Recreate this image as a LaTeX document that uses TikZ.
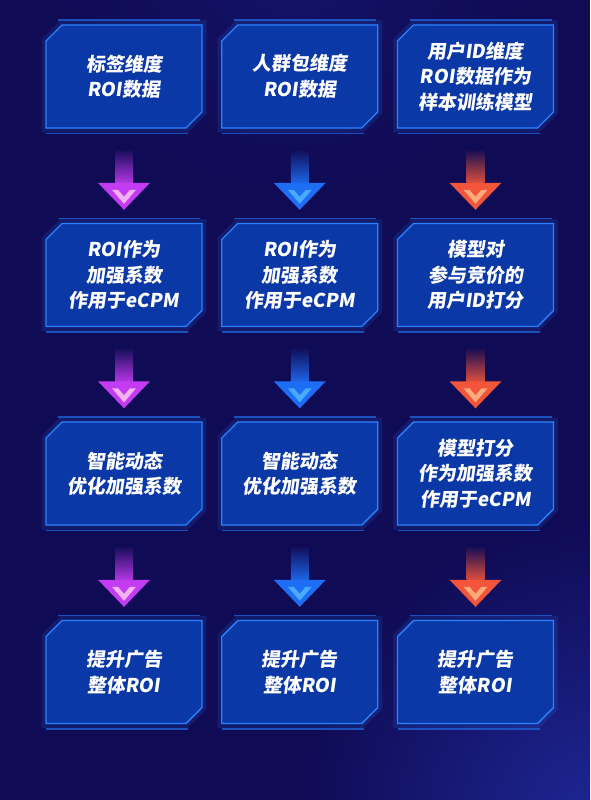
\documentclass[tikz,border=0pt]{standalone}
\usepackage{fontspec}
\newfontfamily\boxfont{Noto Sans CJK SC}[FakeSlant=0.14]
\usetikzlibrary{shapes.misc,calc,fadings}

\definecolor{bg}{HTML}{100B55}
\definecolor{bglow}{HTML}{2333B0}
\definecolor{boxfill}{HTML}{0A38A6}
\definecolor{boxline}{HTML}{2A82FF}
\definecolor{decoline}{HTML}{1F66DD}
\definecolor{arrpurple}{HTML}{C43CF2}
\definecolor{arrpurplelt}{HTML}{F4B2F4}
\definecolor{arrblue}{HTML}{1E6EF5}
\definecolor{arrbluelt}{HTML}{4AAAFF}
\definecolor{arrorange}{HTML}{F2553A}
\definecolor{arrorangelt}{HTML}{FFAA7A}

\tikzfading[name=glowfade, inner color=transparent!0, outer color=transparent!100]

\begin{document}
\begin{tikzpicture}[x=1pt, y=-1pt,
  box/.style={chamfered rectangle, chamfered rectangle corners={north west,south east},
    chamfered rectangle sep=8pt, draw=boxline, line width=1.4pt, fill=boxfill,
    minimum width=156pt, minimum height=103pt, inner sep=0pt,
    preaction={draw=boxline, line width=9pt, opacity=0.14},
    text=white, align=center, font=\boxfont\bfseries\fontsize{19}{25.5}\selectfont},
  deco/.style={decoline, line width=1.8pt, opacity=0.75}]

  \newcommand\X{175.75}
  \newcommand\Y{198.5}

  % arrow between two boxes: shaft fading in, head with a light chevron
  \newcommand\flow[4]{%
    \shade[top color=bg, bottom color=#3!90!bg] ($(#1.south)+(-9,20)$) rectangle ($(#2.north)+(9,-40)$);
    \fill[#3] ($(#2.north)+(-26,-40)$) -- ($(#2.north)+(26,-40)$) -- ($(#2.north)+(0,-13)$) -- cycle;
    \fill[#4] ($(#2.north)+(-12,-33)$) -- ($(#2.north)+(0,-19)$) -- ($(#2.north)+(12,-33)$)
      -- ($(#2.north)+(6,-33)$) -- ($(#2.north)+(0,-26)$) -- ($(#2.north)+(-6,-33)$) -- cycle;
  }

  \useasboundingbox (0,0) rectangle (590,800);
  \clip (0,0) rectangle (590,800);
  \fill[bg] (0,0) rectangle (590,800);
  \fill[bglow, path fading=glowfade, opacity=0.7] (600,820) circle (300pt);
  \fill[bglow, path fading=glowfade, opacity=0.2] (295,-40) circle (240pt);

  \node[box] (a1) at (124+0*\X, 76.5+0*\Y) {标签维度\\ROI数据};
  \node[box] (b1) at (124+1*\X, 76.5+0*\Y) {人群包维度\\ROI数据};
  \node[box] (c1) at (124+2*\X, 76.5+0*\Y) {用户ID维度\\ROI数据作为\\样本训练模型};

  \node[box] (a2) at (124+0*\X, 76.5+1*\Y) {ROI作为\\加强系数\\作用于eCPM};
  \node[box] (b2) at (124+1*\X, 76.5+1*\Y) {ROI作为\\加强系数\\作用于eCPM};
  \node[box] (c2) at (124+2*\X, 76.5+1*\Y) {模型对\\参与竞价的\\用户ID打分};

  \node[box] (a3) at (124+0*\X, 76.5+2*\Y) {智能动态\\优化加强系数};
  \node[box] (b3) at (124+1*\X, 76.5+2*\Y) {智能动态\\优化加强系数};
  \node[box] (c3) at (124+2*\X, 76.5+2*\Y) {模型打分\\作为加强系数\\作用于eCPM};

  \node[box] (a4) at (124+0*\X, 76.5+3*\Y) {提升广告\\整体ROI};
  \node[box] (b4) at (124+1*\X, 76.5+3*\Y) {提升广告\\整体ROI};
  \node[box] (c4) at (124+2*\X, 76.5+3*\Y) {提升广告\\整体ROI};

  % thin lines over and under each box
  \foreach \n in {a1,b1,c1,a2,b2,c2,a3,b3,c3,a4,b4,c4} {
    \draw[deco] ($(\n.center)+(-66,-56.5)$) -- ($(\n.center)+(76,-56.5)$);
    \draw[deco] ($(\n.center)+(-78,57)$) -- ($(\n.center)+(64,57)$);
  }

  \flow{a1}{a2}{arrpurple}{arrpurplelt}
  \flow{a2}{a3}{arrpurple}{arrpurplelt}
  \flow{a3}{a4}{arrpurple}{arrpurplelt}
  \flow{b1}{b2}{arrblue}{arrbluelt}
  \flow{b2}{b3}{arrblue}{arrbluelt}
  \flow{b3}{b4}{arrblue}{arrbluelt}
  \flow{c1}{c2}{arrorange}{arrorangelt}
  \flow{c2}{c3}{arrorange}{arrorangelt}
  \flow{c3}{c4}{arrorange}{arrorangelt}
\end{tikzpicture}
\end{document}
